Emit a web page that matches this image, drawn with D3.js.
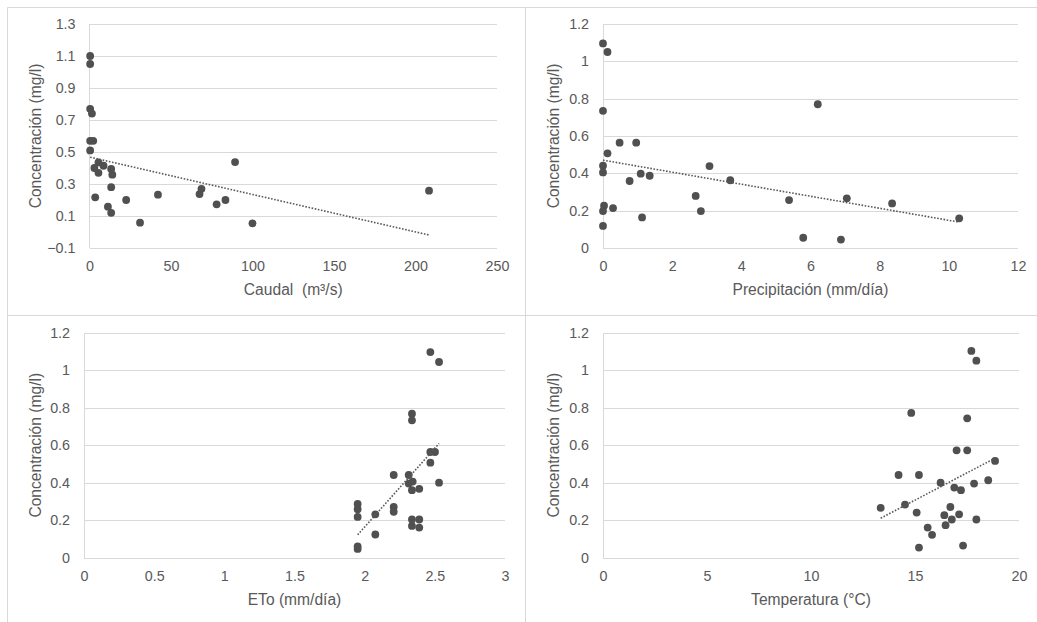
<!DOCTYPE html>
<html>
<head>
<meta charset="utf-8">
<script src="https://cdn.jsdelivr.net/npm/d3@7/dist/d3.min.js"></script>
<style>
  html, body { margin: 0; padding: 0; background: #fff; }
  svg { display: block; font-family: "Liberation Sans", Arial, sans-serif; }
  .title { white-space: pre; }
</style>
</head>
<body>
<svg id="chart" width="1037" height="622"></svg>
<script>
// Caudal (m³/s) vs concentración
const caudal = [0.4, 0.4, 0.4, 1.5, 0.4, 2.3, 0.4, 5.5, 3, 5.5, 8.6, 13.3, 14, 13.3, 3.5, 11.3, 13.3, 22.5, 31, 42, 67.5, 68.7, 78, 83.4, 89.3, 100, 208.3];
const caudalConc = [1.10, 1.05, 0.77, 0.74, 0.57, 0.57, 0.51, 0.435, 0.40, 0.37, 0.414, 0.394, 0.358, 0.28, 0.217, 0.158, 0.12, 0.20, 0.058, 0.233, 0.237, 0.27, 0.173, 0.20, 0.437, 0.054, 0.258];

// Precipitación (mm/día) vs concentración
const precip = [0, 0.13, 0, 0.48, 0.96, 0.13, 0, 0, 0.77, 1.09, 1.35, 3.08, 3.68, 2.68, 2.83, 0.03, 0, 0.29, 1.13, 0, 6.21, 5.38, 7.05, 8.36, 10.3, 5.79, 6.88];
const precipConc = [1.096, 1.05, 0.735, 0.564, 0.564, 0.507, 0.441, 0.405, 0.359, 0.398, 0.387, 0.439, 0.363, 0.279, 0.198, 0.227, 0.198, 0.214, 0.164, 0.118, 0.77, 0.257, 0.266, 0.239, 0.159, 0.055, 0.045];

// ETo (mm/día) vs concentración
const eto = [2.468, 2.53, 2.337, 2.337, 2.468, 2.501, 2.468, 2.53, 2.207, 2.314, 2.314, 2.342, 2.337, 2.389, 1.95, 1.95, 1.95, 2.076, 2.207, 2.207, 2.337, 2.389, 2.337, 2.389, 2.076, 1.95, 1.95];
const etoConc = [1.098, 1.045, 0.769, 0.733, 0.564, 0.564, 0.507, 0.40, 0.441, 0.441, 0.395, 0.406, 0.36, 0.367, 0.286, 0.258, 0.217, 0.231, 0.27, 0.244, 0.203, 0.203, 0.169, 0.16, 0.123, 0.06, 0.046];

// Temperatura (°C) vs concentración
const temp = [17.71, 17.95, 14.82, 17.51, 17.0, 17.51, 18.85, 14.21, 15.19, 16.23, 16.89, 17.21, 17.84, 18.52, 13.35, 14.52, 15.08, 16.70, 16.41, 17.12, 16.77, 16.47, 17.95, 15.61, 15.82, 15.19, 17.31];
const tempConc = [1.104, 1.052, 0.773, 0.744, 0.573, 0.573, 0.516, 0.441, 0.441, 0.40, 0.374, 0.36, 0.395, 0.413, 0.265, 0.283, 0.24, 0.27, 0.226, 0.231, 0.203, 0.173, 0.203, 0.16, 0.121, 0.053, 0.064];

// Axis ticks
const caudalTicks = [0, 50, 100, 150, 200, 250];
const caudalConcTicks = [-0.1, 0.1, 0.3, 0.5, 0.7, 0.9, 1.1, 1.3];
const precipTicks = [0, 2, 4, 6, 8, 10, 12];
const etoTicks = [0, 0.5, 1, 1.5, 2, 2.5, 3];
const tempTicks = [0, 5, 10, 15, 20];
const concTicks = [0, 0.2, 0.4, 0.6, 0.8, 1, 1.2];

// Axis titles
const yTitle = "Concentración (mg/l)";
const xTitles = ["Caudal  (m³/s)", "Precipitación (mm/día)", "ETo (mm/día)", "Temperatura (°C)"];

const svg = d3.select("#chart");
const GRID = "#d9d9d9", TEXT = "#595959", DOT = "#505050";

// Chart frames
const frame = svg.append("g").attr("stroke", GRID).attr("stroke-width", 1);
frame.append("line").attr("x1", 7.5).attr("x2", 1037).attr("y1", 7.5).attr("y2", 7.5);
frame.append("line").attr("x1", 7.5).attr("x2", 1037).attr("y1", 315.5).attr("y2", 315.5);
frame.append("line").attr("x1", 7.5).attr("x2", 7.5).attr("y1", 7.5).attr("y2", 622);
frame.append("line").attr("x1", 525.5).attr("x2", 525.5).attr("y1", 7.5).attr("y2", 622);

const panels = [
  { xs: caudal, ys: caudalConc, xTicks: caudalTicks, yTicks: caudalConcTicks,
    xDom: [0, 250], yDom: [-0.1, 1.3], left: 89.5, right: 497, top: 24, bottom: 248,
    yTitleX: 36, title: xTitles[0], fmtY: d3.format(".1f") },
  { xs: precip, ys: precipConc, xTicks: precipTicks, yTicks: concTicks,
    xDom: [0, 12], yDom: [0, 1.2], left: 603, right: 1018, top: 24, bottom: 248,
    yTitleX: 554, title: xTitles[1], fmtY: d => String(+d.toFixed(1)) },
  { xs: eto, ys: etoConc, xTicks: etoTicks, yTicks: concTicks,
    xDom: [0, 3], yDom: [0, 1.2], left: 84, right: 505, top: 333, bottom: 557.5,
    yTitleX: 36, title: xTitles[2], fmtY: d => String(+d.toFixed(1)) },
  { xs: temp, ys: tempConc, xTicks: tempTicks, yTicks: concTicks,
    xDom: [0, 20], yDom: [0, 1.2], left: 603, right: 1019, top: 333, bottom: 557.5,
    yTitleX: 554, title: xTitles[3], fmtY: d => String(+d.toFixed(1)) }
];

function linearFit(xs, ys) {
  const n = xs.length;
  const mx = d3.mean(xs), my = d3.mean(ys);
  let sxy = 0, sxx = 0;
  for (let i = 0; i < n; i++) { sxy += (xs[i] - mx) * (ys[i] - my); sxx += (xs[i] - mx) ** 2; }
  const b = sxy / sxx;
  return { a: my - b * mx, b };
}

panels.forEach(p => {
  const x = d3.scaleLinear().domain(p.xDom).range([p.left, p.right]);
  const y = d3.scaleLinear().domain(p.yDom).range([p.bottom, p.top]);
  const g = svg.append("g");

  // horizontal gridlines
  const yAxis = d3.axisLeft(y).tickValues(p.yTicks).tickSize(-(p.right - p.left)).tickPadding(14).tickFormat(p.fmtY);
  const ya = g.append("g").attr("transform", `translate(${p.left},0)`).call(yAxis);
  ya.select(".domain").remove();
  ya.selectAll(".tick line").attr("stroke", GRID).attr("stroke-width", 1).attr("shape-rendering", "crispEdges");
  ya.selectAll(".tick text").attr("fill", TEXT).style("font-size", "14.3px").style("font-family", "Liberation Sans, Arial, sans-serif");

  // vertical axis line
  g.append("line").attr("x1", x(p.xDom[0])).attr("x2", x(p.xDom[0]))
    .attr("y1", p.top).attr("y2", p.bottom).attr("stroke", GRID).attr("shape-rendering", "crispEdges");

  // x axis labels
  const xAxis = d3.axisBottom(x).tickValues(p.xTicks).tickSize(0).tickPadding(13).tickFormat(d => String(d));
  const xa = g.append("g").attr("transform", `translate(0,${p.bottom})`).call(xAxis);
  xa.select(".domain").remove();
  xa.selectAll(".tick text").attr("fill", TEXT).style("font-size", "14.3px").style("font-family", "Liberation Sans, Arial, sans-serif");

  // axis titles
  g.append("text").attr("class", "title").attr("x", (p.left + p.right) / 2).attr("y", p.bottom + 47)
    .attr("text-anchor", "middle").attr("fill", TEXT).style("font-size", "15.6px").text(p.title);
  g.append("text")
    .attr("transform", `translate(${p.yTitleX},${(p.top + p.bottom) / 2}) rotate(-90)`)
    .attr("text-anchor", "middle").attr("dy", "0.35em").attr("fill", TEXT).style("font-size", "15.6px").text(yTitle);

  // points
  const pts = p.xs.map((v, i) => [v, p.ys[i]]);
  g.append("g").selectAll("circle").data(pts).join("circle")
    .attr("cx", d => x(d[0])).attr("cy", d => y(d[1])).attr("r", 3.9).attr("fill", DOT);

  // linear trendline over the data range
  const fit = linearFit(p.xs, p.ys);
  const [x0, x1] = d3.extent(p.xs);
  g.append("line")
    .attr("x1", x(x0)).attr("y1", y(fit.a + fit.b * x0))
    .attr("x2", x(x1)).attr("y2", y(fit.a + fit.b * x1))
    .attr("stroke", "#595959").attr("stroke-width", 1.6).attr("stroke-dasharray", "1.6,1.6");
});
</script>
</body>
</html>
